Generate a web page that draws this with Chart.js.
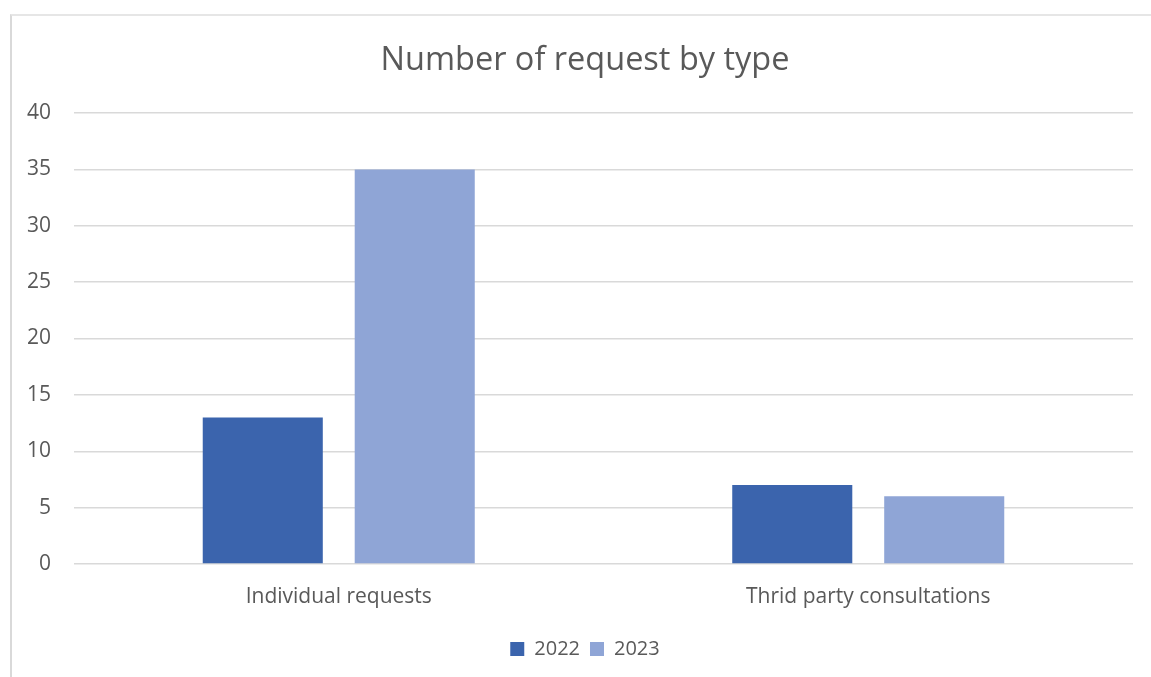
<!DOCTYPE html>
<html>
<head>
<meta charset="utf-8">
<script src="https://cdn.jsdelivr.net/npm/chart.js@4"></script>
<style>
  html, body { margin: 0; padding: 0; background: #fff; }
  body { width: 1151px; height: 677px; position: relative; overflow: hidden; }
  .frame {
    position: absolute; left: 10px; top: 14px; width: 1200px; height: 700px;
    border-left: 2px solid #d9d9d9; border-top: 2px solid #e6e6e6;
  }
  .wrap { position: absolute; left: 0; top: 0; width: 1151px; height: 677px; }
</style>
</head>
<body>
<div class="frame"></div>
<div class="wrap"><canvas id="chart"></canvas></div>
<script>
const categories = ["Individual requests", "Thrid party consultations"];
const years = ["2022", "2023"];
const values2022 = [13, 7];
const values2023 = [35, 6];
const colors = ["#3b64ad", "#8fa5d6"];

const TEXT = "#595959";
const FONT = "'Open Sans', sans-serif";

new Chart(document.getElementById("chart"), {
  type: "bar",
  data: {
    labels: categories,
    datasets: [
      { label: years[0], data: values2022, backgroundColor: colors[0] },
      { label: years[1], data: values2023, backgroundColor: colors[1] }
    ]
  },
  options: {
    responsive: true,
    maintainAspectRatio: false,
    animation: false,
    datasets: { bar: { categoryPercentage: 0.574, barPercentage: 0.79 } },
    layout: { padding: { left: 22, right: 3, top: 0, bottom: 8 } },
    plugins: {
      title: {
        display: true,
        text: "Number of request by type",
        color: TEXT,
        font: { family: FONT, size: 32.5, weight: "normal" },
        padding: { top: 41, bottom: 33 }
      },
      legend: {
        position: "bottom",
        labels: {
          color: TEXT,
          font: { family: FONT, size: 20 },
          boxWidth: 14,
          boxHeight: 14,
          padding: 10
        }
      },
      tooltip: { enabled: false }
    },
    scales: {
      x: {
        grid: { display: false },
        border: { display: false },
        ticks: { color: TEXT, font: { family: FONT, size: 21 }, padding: 12 },
        afterFit: s => { s.height = 65; }
      },
      y: {
        min: 0,
        max: 40,
        ticks: { stepSize: 5, color: TEXT, font: { family: FONT, size: 21 }, padding: 23 },
        grid: { color: "#d9d9d9", lineWidth: 1.5, drawTicks: false },
        border: { display: false },
        afterFit: s => { s.width = 52; }
      },
      // empty right axis, only reserves space on the right
      yRight: {
        position: "right",
        grid: { display: false },
        border: { display: false },
        ticks: { display: false },
        afterFit: s => { s.width = 15; }
      }
    }
  }
});
</script>
</body>
</html>
